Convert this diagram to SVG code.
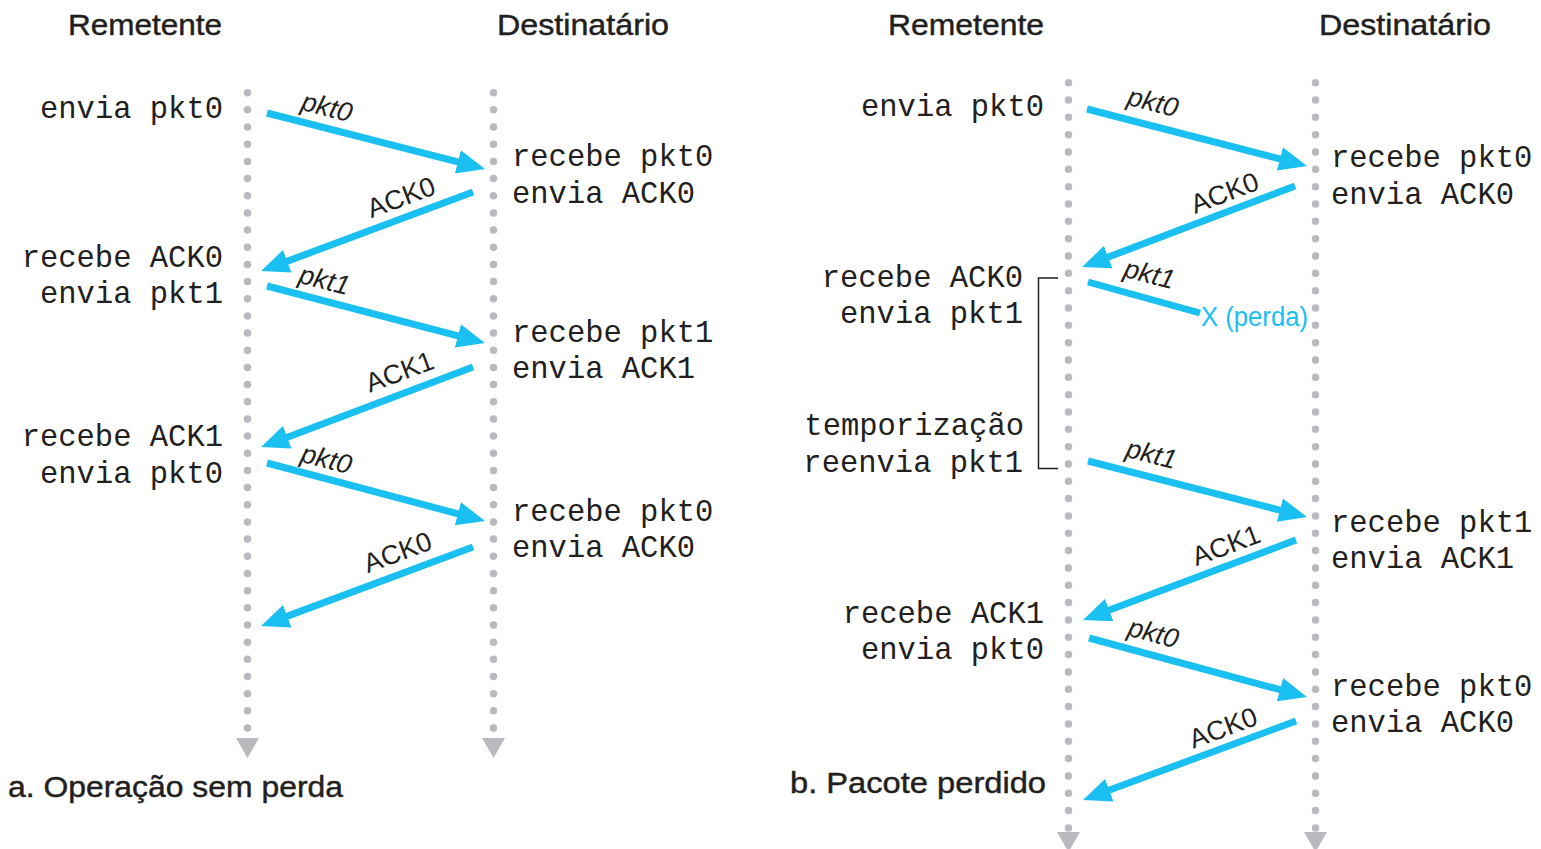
<svg xmlns="http://www.w3.org/2000/svg" width="1541" height="849" viewBox="0 0 1541 849">
<defs>
<style>
.hdr{font-family:"Liberation Sans",Arial,sans-serif;font-size:30px;fill:#231f20;stroke:#231f20;stroke-width:0.45px}
.mono{font-family:"Liberation Mono","Courier New",monospace;font-size:30.5px;fill:#231f20}
.lbl{font-family:"Liberation Sans",Arial,sans-serif;font-size:27px;fill:#231f20;text-anchor:middle}
.pk{font-style:italic;font-size:27px}
.tl{stroke:#b9babd;stroke-width:7.5;stroke-linecap:round;fill:none}
.tri{fill:#b9babd}
.arr{stroke:#1ac0f2;stroke-width:7;fill:none;marker-end:url(#ah)}
.loss{stroke:#1ac0f2;stroke-width:7;fill:none}
.end{text-anchor:end}
</style>
<marker id="ah" markerUnits="userSpaceOnUse" markerWidth="28" markerHeight="24" refX="9" refY="12" orient="auto" viewBox="0 0 28 24">
<path d="M0,0 L28,12 L0,24 z" fill="#1ac0f2"/>
</marker>
</defs>
<rect width="1541" height="849" fill="#ffffff"/>

<g id="timelines">
<line class="tl" x1="247.5" y1="92.7" x2="247.5" y2="729" stroke-dasharray="0 17.17"/>
<line class="tl" x1="493.5" y1="92.7" x2="493.5" y2="729" stroke-dasharray="0 17.17"/>
<polygon class="tri" points="236,738 259,738 247.5,758"/>
<polygon class="tri" points="482,738 505,738 493.5,758"/>
<line class="tl" x1="1068.5" y1="82.7" x2="1068.5" y2="829" stroke-dasharray="0 17.33"/>
<line class="tl" x1="1315.5" y1="82.7" x2="1315.5" y2="829" stroke-dasharray="0 17.33"/>
<polygon class="tri" points="1057,832 1080,832 1068.5,852"/>
<polygon class="tri" points="1304,832 1327,832 1315.5,852"/>
</g>

<g id="headers">
<text class="hdr" x="68" y="34.5" textLength="154" lengthAdjust="spacingAndGlyphs">Remetente</text>
<text class="hdr" x="497" y="34.5" textLength="172" lengthAdjust="spacingAndGlyphs">Destinatário</text>
<text class="hdr" x="888" y="34.5" textLength="156" lengthAdjust="spacingAndGlyphs">Remetente</text>
<text class="hdr" x="1319" y="34.5" textLength="172" lengthAdjust="spacingAndGlyphs">Destinatário</text>
<text class="hdr" x="8" y="797" textLength="335" lengthAdjust="spacingAndGlyphs">a. Operação sem perda</text>
<text class="hdr" x="790" y="793" textLength="256" lengthAdjust="spacingAndGlyphs">b. Pacote perdido</text>
</g>

<g id="sender-a">
<text class="mono end" x="223" y="117.5">envia pkt0</text>
<text class="mono end" x="223" y="266.7">recebe ACK0</text>
<text class="mono end" x="223" y="303.3">envia pkt1</text>
<text class="mono end" x="223" y="446">recebe ACK1</text>
<text class="mono end" x="223" y="482.7">envia pkt0</text>
</g>

<g id="receiver-a">
<text class="mono" x="512" y="166">recebe pkt0</text>
<text class="mono" x="512" y="202.5">envia ACK0</text>
<text class="mono" x="512" y="341.7">recebe pkt1</text>
<text class="mono" x="512" y="378.3">envia ACK1</text>
<text class="mono" x="512" y="520.7">recebe pkt0</text>
<text class="mono" x="512" y="556.7">envia ACK0</text>
</g>

<g id="sender-b">
<text class="mono end" x="1044" y="116">envia pkt0</text>
<text class="mono end" x="1023" y="286.7">recebe ACK0</text>
<text class="mono end" x="1023" y="323.3">envia pkt1</text>
<text class="mono end" x="1024" y="435">temporização</text>
<text class="mono end" x="1023" y="471.7">reenvia pkt1</text>
<text class="mono end" x="1044" y="622.7">recebe ACK1</text>
<text class="mono end" x="1044" y="659.3">envia pkt0</text>
</g>

<g id="receiver-b">
<text class="mono" x="1331" y="167.3">recebe pkt0</text>
<text class="mono" x="1331" y="204">envia ACK0</text>
<text class="mono" x="1331" y="531.7">recebe pkt1</text>
<text class="mono" x="1331" y="568.3">envia ACK1</text>
<text class="mono" x="1331" y="695.7">recebe pkt0</text>
<text class="mono" x="1331" y="732.3">envia ACK0</text>
</g>

<g id="timeout-bracket">
<path d="M1058,278 H1038.5 V468.5 H1058" fill="none" stroke="#231f20" stroke-width="1.5"/>
</g>

<g id="connectors">
<line class="arr" x1="267" y1="113" x2="466.6" y2="164.2"/>
<line class="arr" x1="473" y1="192" x2="278.8" y2="264.4"/>
<line class="arr" x1="267" y1="286" x2="466.6" y2="338.2"/>
<line class="arr" x1="473" y1="367" x2="278.8" y2="440.4"/>
<line class="arr" x1="267" y1="463" x2="466.6" y2="516.1"/>
<line class="arr" x1="473" y1="547" x2="278.8" y2="619.4"/>

<line class="arr" x1="1087" y1="109" x2="1288.6" y2="161.2"/>
<line class="arr" x1="1295" y1="186" x2="1099.8" y2="260.3"/>
<line class="loss" x1="1088" y1="282" x2="1200" y2="313"/>
<line class="arr" x1="1088" y1="461" x2="1288.6" y2="512.3"/>
<line class="arr" x1="1296" y1="540" x2="1100.8" y2="613.3"/>
<line class="arr" x1="1089" y1="638" x2="1288.6" y2="692"/>
<line class="arr" x1="1296" y1="721" x2="1100.8" y2="793.3"/>
</g>

<g id="connector-labels">
<text class="lbl pk" transform="translate(326.5,109) rotate(14.4)" y="7">pkt0</text>
<text class="lbl" transform="translate(401,197) rotate(-20.5)" y="9.5">ACK0</text>
<text class="lbl pk" transform="translate(324,282) rotate(14.4)" y="7">pkt1</text>
<text class="lbl" transform="translate(399.5,371.5) rotate(-20.5)" y="9.5">ACK1</text>
<text class="lbl pk" transform="translate(326,461) rotate(14.4)" y="7">pkt0</text>
<text class="lbl" transform="translate(397.5,552) rotate(-20.5)" y="9.5">ACK0</text>

<text class="lbl pk" transform="translate(1152.5,104) rotate(14.5)" y="7">pkt0</text>
<text class="lbl" transform="translate(1224.5,192.5) rotate(-20.8)" y="9.5">ACK0</text>
<text class="lbl pk" transform="translate(1149,276) rotate(14.5)" y="7">pkt1</text>
<text class="lbl pk" transform="translate(1151,456) rotate(14.3)" y="7">pkt1</text>
<text class="lbl" transform="translate(1226,545) rotate(-20.6)" y="9.5">ACK1</text>
<text class="lbl pk" transform="translate(1153,635) rotate(15)" y="7">pkt0</text>
<text class="lbl" transform="translate(1223,727.5) rotate(-20.4)" y="9.5">ACK0</text>
<text x="1201" y="326" font-family="Liberation Sans, Arial, sans-serif" font-size="27" fill="#1ac0f2" textLength="107" lengthAdjust="spacingAndGlyphs">X (perda)</text>
</g>
</svg>
